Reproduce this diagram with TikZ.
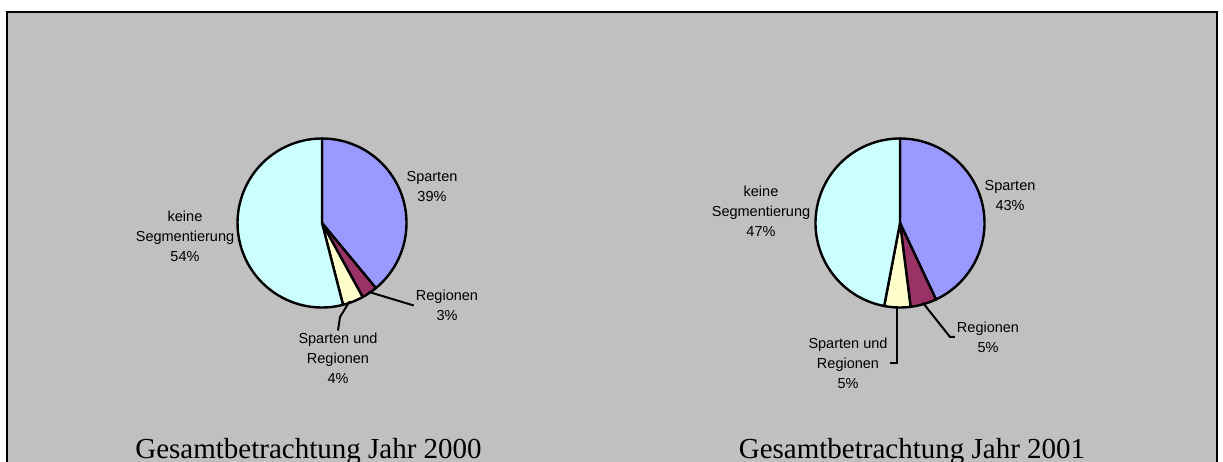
\documentclass[tikz,border=0pt]{standalone}
\usepackage{fontspec}
\setmainfont{Liberation Serif}
\setsansfont{Liberation Sans}

\definecolor{chartbg}{HTML}{C0C0C0}
\definecolor{sparten}{HTML}{9999FF}
\definecolor{regionen}{HTML}{993366}
\definecolor{beide}{HTML}{FFFFCC}
\definecolor{keine}{HTML}{CCFFFF}

\tikzset{
  slice/.style={draw=black, line width=2.4pt, line join=round},
  lbl/.style={font=\sffamily\fontsize{14.5}{20}\selectfont, align=center, inner sep=2pt},
  leader/.style={draw=black, line width=2pt},
  charttitle/.style={font=\rmfamily\fontsize{29}{34}\selectfont, anchor=base, inner sep=0pt}
}

\begin{document}
\begin{tikzpicture}[x=1pt,y=1pt]
	\useasboundingbox (0,0) rectangle (1223,462);
	\fill[white] (0,0) rectangle (1223,462);

	% frame of the chart area
	\fill[chartbg] (7,0) rectangle (1217,450);
	\draw[line width=2pt] (7,0) -- (7,450) -- (1217,450) -- (1217,0);

	\coordinate (c1) at (322,239);
	\coordinate (c2) at (900,239);

	% Jahr 2000
	\filldraw[slice, fill=sparten] (c1) -- ++(90:84.5) arc[start angle=90, end angle=-50.4, radius=84.5] -- cycle;
	\filldraw[slice, fill=regionen] (c1) -- ++(-50.4:84.5) arc[start angle=-50.4, end angle=-61.2, radius=84.5] -- cycle;
	\filldraw[slice, fill=beide] (c1) -- ++(-61.2:84.5) arc[start angle=-61.2, end angle=-75.6, radius=84.5] -- cycle;
	\filldraw[slice, fill=keine] (c1) -- ++(-75.6:84.5) arc[start angle=-75.6, end angle=-270, radius=84.5] -- cycle;

	% Jahr 2001
	\filldraw[slice, fill=sparten] (c2) -- ++(90:84.5) arc[start angle=90, end angle=-64.8, radius=84.5] -- cycle;
	\filldraw[slice, fill=regionen] (c2) -- ++(-64.8:84.5) arc[start angle=-64.8, end angle=-82.8, radius=84.5] -- cycle;
	\filldraw[slice, fill=beide] (c2) -- ++(-82.8:84.5) arc[start angle=-82.8, end angle=-100.8, radius=84.5] -- cycle;
	\filldraw[slice, fill=keine] (c2) -- ++(-100.8:84.5) arc[start angle=-100.8, end angle=-270, radius=84.5] -- cycle;

	% labels
	\node[lbl] (sp1) at (432,275.5) {Sparten\\39\%};
	\node[lbl] (ke1) at (185,226) {keine\\Segmentierung\\54\%};
	\node[lbl] (re1) at (447,156.5) {Regionen\\3\%};
	\node[lbl] (sr1) at (338,104) {Sparten und\\Regionen\\4\%};

	\node[lbl] (sp2) at (1010,266) {Sparten\\43\%};
	\node[lbl] (ke2) at (761,251) {keine\\Segmentierung\\47\%};
	\node[lbl] (re2) at (988,125) {Regionen\\5\%};
	\node[lbl] (sr2) at (848,99) {Sparten und\\Regionen\\5\%};

	% leader lines
	\coordinate (re1a) at ([shift={(-56:83)}]c1);
	\coordinate (sr1a) at ([shift={(-70.5:83)}]c1);
	\coordinate (sr1k) at (340,145);
	\draw[leader] (re1a) -- (re1.west);
	\draw[leader] (sr1a) -- (sr1k) -- (sr1.north);

	\coordinate (re2a) at ([shift={(-74:83)}]c2);
	\coordinate (re2k) at (950,125);
	\coordinate (sr2a) at ([shift={(-92:83)}]c2);
	\draw[leader] (re2a) -- (re2k) -- (re2.west);
	\draw[leader] (sr2a) |- (sr2.east);

	\node[charttitle] (t1) at (308.5,3) {Gesamtbetrachtung Jahr 2000};
	\node[charttitle] (t2) at (912,3) {Gesamtbetrachtung Jahr 2001};
\end{tikzpicture}
\end{document}
